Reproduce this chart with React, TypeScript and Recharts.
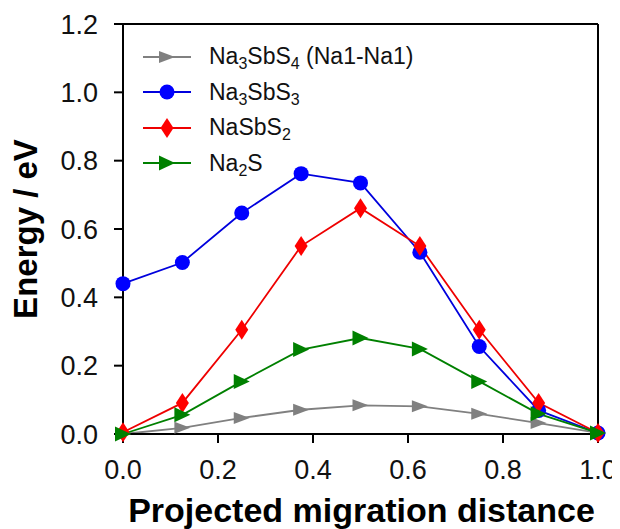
import React from "react";
import { LineChart, Line, XAxis, YAxis, ReferenceLine, Label } from "recharts";

// projected migration distance (fractional)
const distance = [0, 0.125, 0.25, 0.375, 0.5, 0.625, 0.75, 0.875, 1.0];
// energies in eV
const na3sbs4 = [0.0, 0.018, 0.047, 0.071, 0.084, 0.081, 0.059, 0.032, 0.003];
const na3sbs3 = [0.44, 0.502, 0.647, 0.762, 0.735, 0.532, 0.256, 0.069, 0.003];
const nasbs2 = [0.005, 0.091, 0.305, 0.55, 0.661, 0.55, 0.305, 0.091, 0.003];
const na2s = [0.0, 0.056, 0.154, 0.247, 0.281, 0.249, 0.154, 0.059, 0.003];

const xTicks = [0, 0.2, 0.4, 0.6, 0.8, 1.0];
const yTicks = [0, 0.2, 0.4, 0.6, 0.8, 1.0, 1.2];

const data = distance.map((x, i) => ({
  x,
  na3sbs4: na3sbs4[i],
  na3sbs3: na3sbs3[i],
  nasbs2: nasbs2[i],
  na2s: na2s[i],
}));

type Shape = "triSmall" | "circle" | "diamond" | "tri";

function Marker({ cx, cy, shape, fill }: { cx: number; cy: number; shape: Shape; fill: string }) {
  if (shape === "circle") return <circle cx={cx} cy={cy} r={7.5} fill={fill} />;
  if (shape === "diamond")
    return (
      <polygon
        points={`${cx},${cy - 10} ${cx + 6.5},${cy} ${cx},${cy + 10} ${cx - 6.5},${cy}`}
        fill={fill}
      />
    );
  const w = 16;
  const h = shape === "tri" ? 15 : 12;
  return (
    <polygon
      points={`${cx - w / 2},${cy - h / 2} ${cx + w / 2},${cy} ${cx - w / 2},${cy + h / 2}`}
      fill={fill}
    />
  );
}

const series: {
  key: string;
  color: string;
  line: string;
  shape: Shape;
  label: React.ReactNode;
}[] = [
  {
    key: "na3sbs4",
    color: "#808080",
    line: "#808080",
    shape: "triSmall",
    label: (
      <>
        Na<sub>3</sub>SbS<sub>4</sub> (Na1-Na1)
      </>
    ),
  },
  {
    key: "na3sbs3",
    color: "#0000ff",
    line: "#0000dd",
    shape: "circle",
    label: (
      <>
        Na<sub>3</sub>SbS<sub>3</sub>
      </>
    ),
  },
  {
    key: "nasbs2",
    color: "#ff0000",
    line: "#ee0000",
    shape: "diamond",
    label: (
      <>
        NaSbS<sub>2</sub>
      </>
    ),
  },
  {
    key: "na2s",
    color: "#008000",
    line: "#008000",
    shape: "tri",
    label: (
      <>
        Na<sub>2</sub>S
      </>
    ),
  },
];

const subStyle = `.lg sub{font-size:16px;vertical-align:-5px;line-height:0}`;

function LegendBox() {
  return (
    <div
      className="lg"
      style={{ position: "absolute", left: 135, top: 31, fontSize: 23, color: "#111" }}
    >
      <style>{subStyle}</style>
      {series.map((s) => (
        <div key={s.key} style={{ height: 35.5, display: "flex", alignItems: "center" }}>
          <svg width={48} height={24} style={{ marginRight: 18 }}>
            <line x1={0} y1={12} x2={48} y2={12} stroke={s.line} strokeWidth={1.8} />
            <Marker cx={24} cy={12} shape={s.shape} fill={s.color} />
          </svg>
          <span style={{ whiteSpace: "nowrap" }}>{s.label}</span>
        </div>
      ))}
    </div>
  );
}

export default function App() {
  return (
    <div style={{ position: "relative", fontFamily: "Arial, 'Liberation Sans', sans-serif" }}>
      <LineChart
        width={612}
        height={521}
        data={data}
        margin={{ top: 16, right: 22, left: 0, bottom: 0 }}
      >
        <XAxis
          dataKey="x"
          type="number"
          domain={[0, 1]}
          ticks={xTicks}
          tickFormatter={(v: number) => v.toFixed(1)}
          height={95}
          stroke="#000"
          strokeWidth={2}
          tickSize={9}
          tickMargin={17}
          tick={{ fill: "#111", fontSize: 27 }}
          tickLine={{ stroke: "#000", strokeWidth: 2 }}
        >
          <Label
            content={({ viewBox }: any) => (
              <text
                x={viewBox.x + viewBox.width / 2 + 1}
                y={viewBox.y + 88}
                textAnchor="middle"
                fontSize={34}
                fontWeight="bold"
                fill="#000"
              >
                Projected migration distance
              </text>
            )}
          />
        </XAxis>
        <YAxis
          type="number"
          domain={[0, 1.2]}
          ticks={yTicks}
          tickFormatter={(v: number) => v.toFixed(1)}
          width={115}
          stroke="#000"
          strokeWidth={2}
          tickSize={9}
          tickMargin={16}
          tick={{ fill: "#111", fontSize: 27 }}
          tickLine={{ stroke: "#000", strokeWidth: 2 }}
        >
          <Label
            content={({ viewBox }: any) => {
              const cy = viewBox.y + viewBox.height / 2;
              return (
                <text
                  x={29}
                  y={cy}
                  transform={`rotate(-90, 29, ${cy})`}
                  textAnchor="middle"
                  fontSize={33}
                  fontWeight="bold"
                  fill="#000"
                >
                  Energy / eV
                </text>
              );
            }}
          />
        </YAxis>
        <ReferenceLine y={1.2} stroke="#000" strokeWidth={2} />
        <ReferenceLine x={1} stroke="#000" strokeWidth={2} />
        {series.map((s) => (
          <Line
            key={s.key}
            dataKey={s.key}
            stroke={s.line}
            strokeWidth={1.8}
            isAnimationActive={false}
            activeDot={false}
            dot={(p: any) => (
              <Marker key={`${s.key}-${p.index}`} cx={p.cx} cy={p.cy} shape={s.shape} fill={s.color} />
            )}
          />
        ))}
      </LineChart>
      <LegendBox />
    </div>
  );
}
